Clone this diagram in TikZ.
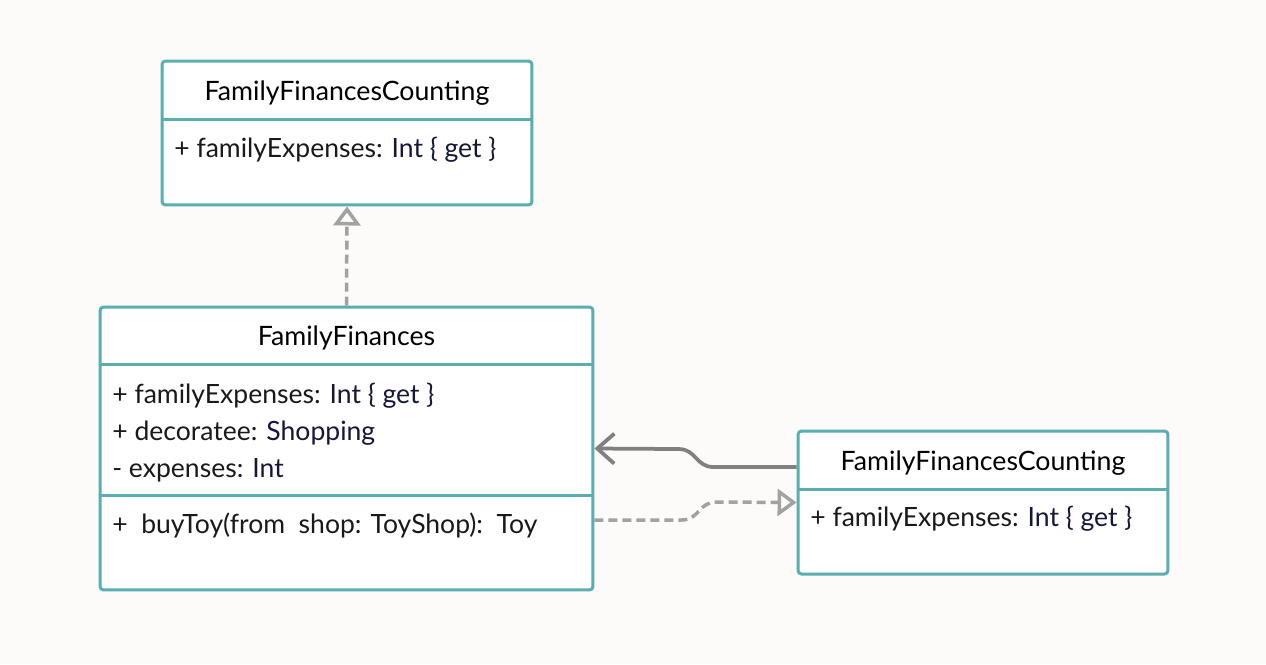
\documentclass[tikz,border=0pt]{standalone}
\usepackage{fontspec}
\setmainfont{Lato}
\usetikzlibrary{arrows.meta}
\definecolor{boxteal}{RGB}{88,174,176}
\definecolor{paper}{RGB}{252,251,249}
\definecolor{linkgrey}{RGB}{128,128,128}
\definecolor{dashgrey}{RGB}{162,162,162}
\definecolor{typeink}{RGB}{22,22,58}
\newcommand{\utype}[1]{\textcolor{typeink}{#1}}
\tikzset{
    classbox/.style={draw=boxteal, line width=0.06cm, fill=white, rounded corners=0.07cm, inner sep=0pt},
    classrule/.style={draw=boxteal, line width=0.06cm},
    classname/.style={anchor=base, inner sep=0pt, font=\fontsize{15.2}{18}\selectfont},
    member/.style={anchor=base west, inner sep=0pt, text=black!90, font=\fontsize{15.1}{18}\selectfont},
    realize/.style={draw=dashgrey, line width=0.07cm, dash pattern=on 0.18cm off 0.1cm,
        -{Triangle[open, length=0.38cm, width=0.54cm]}},
    uses/.style={draw=linkgrey, line width=0.075cm, -{Straight Barb[length=0.34cm, width=0.6cm]}}
}
\begin{document}
\begin{tikzpicture}[x=0.02cm, y=-0.02cm]
    \fill[paper] (0,0) rectangle (1266,664);
    % Interface
    \node[classbox, minimum width=7.4cm, minimum height=2.88cm] (iface) at (347,133) {};
    \draw[classrule] (iface.west |- 0,119) -- (iface.east |- 0,119);
    \node[classname] (iface-name) at (347,100) {FamilyFinancesCounting};
    \node[member] (iface-a1) at (174,157) {+ familyExpenses: \utype{Int \{ get \}}};

    % Decorator
    \node[classbox, minimum width=9.86cm, minimum height=5.66cm] (ff) at (346.5,448.5) {};
    \draw[classrule] (ff.west |- 0,364) -- (ff.east |- 0,364);
    \draw[classrule] (ff.west |- 0,495) -- (ff.east |- 0,495);
    \node[classname] (ff-name) at (346.5,345) {FamilyFinances};
    \node[member] (ff-a1) at (112,403) {+ familyExpenses: \utype{Int \{ get \}}};
    \node[member] (ff-a2) at (112,440) {+ decoratee: \utype{Shopping}};
    \node[member] (ff-a3) at (112,477) {- expenses: \utype{Int}};
    \node[member] (ff-m1) at (112,533) {+\ \ buyToy(from\ \ shop: ToyShop):\ \ Toy};

    % Component
    \node[classbox, minimum width=7.4cm, minimum height=2.86cm] (counting) at (983,502.5) {};
    \draw[classrule] (counting.west |- 0,489) -- (counting.east |- 0,489);
    \node[classname] (counting-name) at (983,470) {FamilyFinancesCounting};
    \node[member] (counting-a1) at (810,526) {+ familyExpenses: \utype{Int \{ get \}}};

    % Links
    \draw[realize] (ff.north) -- (iface.south);
    \draw[uses] ([yshift=0.71cm]counting.west) -- ++(-83,0)
        .. controls +(-18,0) and +(18,0) .. ++(-35,-18) -- (ff.east);
    \draw[realize] ([yshift=-1.43cm]ff.east) -- ++(87,0)
        .. controls +(18,0) and +(-18,0) .. ++(35,-18) -- (counting.west);
\end{tikzpicture}
\end{document}
